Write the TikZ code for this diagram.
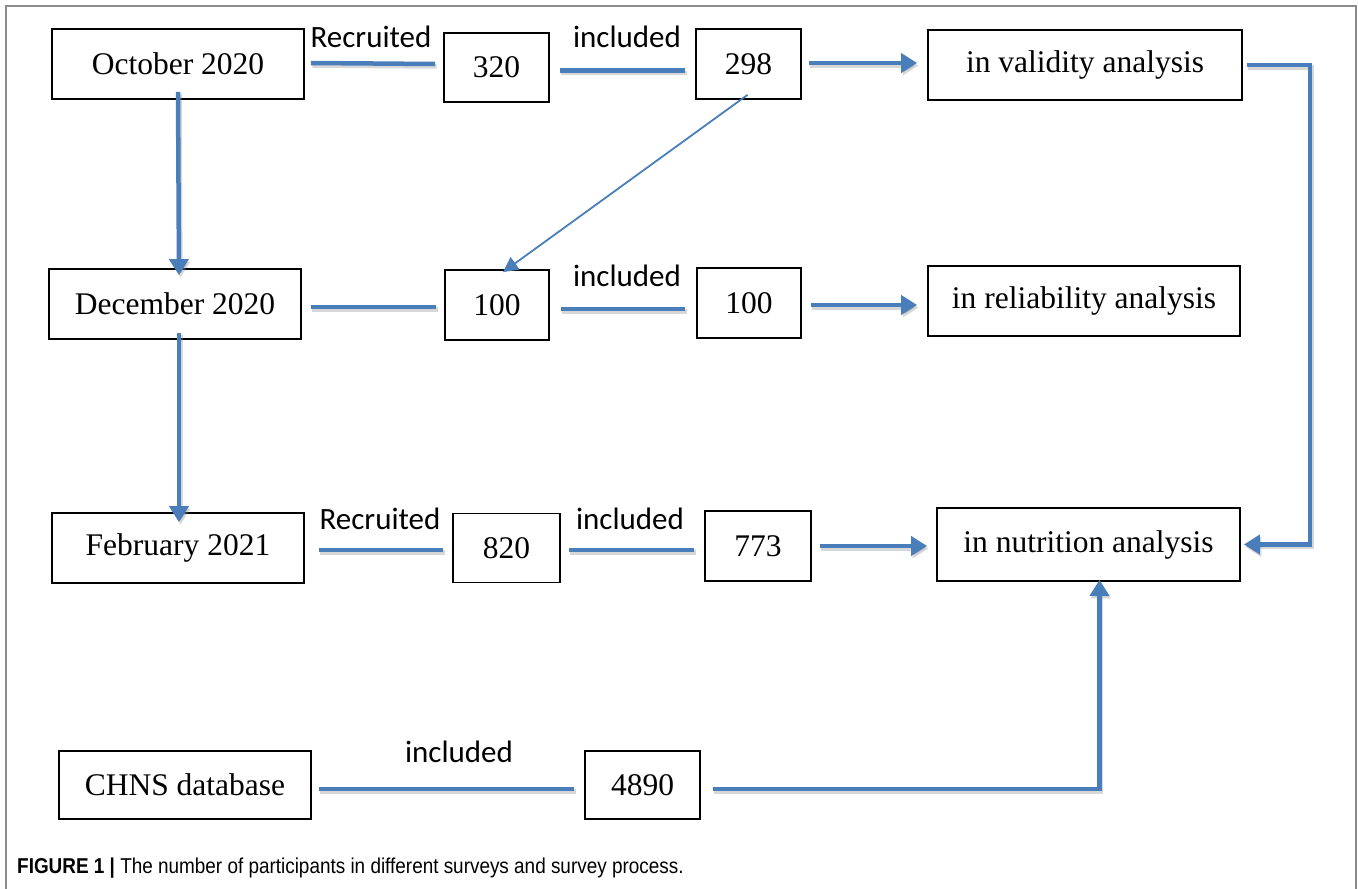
\documentclass[tikz,border=0pt]{standalone}
\usepackage{fontspec}
\setmainfont{Liberation Serif}
\newfontfamily\labfont{Carlito}
\newfontfamily\capfont{Liberation Sans}
\usetikzlibrary{arrows.meta}
\definecolor{connblue}{HTML}{4A7EBB}
\definecolor{framegray}{HTML}{8C8C8C}
\tikzset{
  box/.style={draw=black, line width=1.8pt, inner sep=0pt, font=\fontsize{31.5}{36}\selectfont},
  lab/.style={inner sep=0pt, font=\labfont\fontsize{31}{36}\selectfont},
  conn/.style={draw=connblue, line width=4.5pt,
    preaction={draw=black!45, opacity=0.35, line width=4.5pt,
      transform canvas={shift={(1.5pt,-2.5pt)}}}},
  arr/.style={conn, -{Triangle[length=16pt,width=19pt]}},
  thin/.style={draw=connblue, line width=1.8pt, -{Triangle[length=15pt,width=15pt]}},
}
\begin{document}
\begin{tikzpicture}[x=1pt,y=-1pt]
\useasboundingbox (0,0) rectangle (1358,889);
\draw[framegray, line width=1.6pt] (6,889) -- (6,6) -- (1356,6) -- (1356,889);

% row 1
\node[box, minimum width=252pt, minimum height=70pt] (oct) at (178,64) {October 2020};
\node[box, minimum width=105pt, minimum height=69pt] (n320) at (496.5,67.5) {320};
\node[box, minimum width=105pt, minimum height=70pt] (n298) at (748.5,64) {298};
\node[box, minimum width=314pt, minimum height=70pt] (valid) at (1085,65) {in validity analysis};
% row 2
\node[box, minimum width=252pt, minimum height=70pt] (dec) at (175,304) {December 2020};
\node[box, minimum width=104pt, minimum height=70pt] (n100a) at (497,305) {100};
\node[box, minimum width=104pt, minimum height=70pt] (n100b) at (749,303) {100};
\node[box, minimum width=312pt, minimum height=70pt] (rel) at (1084,301) {in reliability analysis};
% row 3
\node[box, minimum width=252pt, minimum height=70pt] (feb) at (178,548) {February 2021};
\node[box, minimum width=107pt, minimum height=69pt] (n820) at (506.5,548) {820};
\node[box, minimum width=106pt, minimum height=70pt] (n773) at (758,546) {773};
\node[box, minimum width=303pt, minimum height=73pt] (nutr) at (1088.5,544.5) {in nutrition analysis};
% row 4
\node[box, minimum width=252pt, minimum height=68pt] (chns) at (185,785) {CHNS database};
\node[box, minimum width=115pt, minimum height=68pt] (n4890) at (642.5,785) {4890};

% labels
\node[lab] (l1) at (371,37) {Recruited};
\node[lab] (l2) at (627,37) {included};
\node[lab] (l3) at (627,276) {included};
\node[lab] (l4) at (380,519) {Recruited};
\node[lab] (l5) at (630,519) {included};
\node[lab] (l6) at (459,752) {included};

% row 1 connectors
\draw[conn] ([xshift=6pt,yshift=1pt]oct.east) -- ([xshift=-8pt]oct.east -| n320.west);
\draw[conn] ([xshift=10pt,yshift=-3pt]n320.east) -- ([xshift=-10pt,yshift=-3pt]n320.east -| n298.west);
\draw[arr] ([xshift=7pt,yshift=1pt]n298.east) -- ([xshift=-10pt,yshift=1pt]n298.east -| valid.west);
\draw[arr] ([xshift=4pt]valid.east) -- ++(63,0) |- ([xshift=3pt]nutr.east);
% verticals
\draw[arr] ([yshift=8pt]oct.south) -- ([yshift=-7pt,xshift=4pt]dec.north);
\draw[arr] ([xshift=4pt,yshift=7pt]dec.south) -- ([xshift=1pt,yshift=-10pt]feb.north);
\draw[thin] ([yshift=5pt,xshift=-1pt]n298.south) -- ([xshift=6pt,yshift=-3pt]n100a.north);
% row 2
\draw[conn] ([xshift=9pt,yshift=-3pt]dec.east) -- ([xshift=-8pt,yshift=-3pt]dec.east -| n100a.west);
\draw[conn] ([xshift=11pt,yshift=-4pt]n100a.east) -- ([xshift=-11pt,yshift=-4pt]n100a.east -| n100b.west);
\draw[arr] ([xshift=9pt,yshift=-2pt]n100b.east) -- ([xshift=-10pt,yshift=-2pt]n100b.east -| rel.west);
% row 3
\draw[conn] ([xshift=14pt,yshift=-2pt]feb.east) -- ([xshift=-9pt,yshift=-2pt]feb.east -| n820.west);
\draw[conn] ([xshift=8pt,yshift=-2pt]n820.east) -- ([xshift=-10pt,yshift=-2pt]n820.east -| n773.west);
\draw[arr] ([xshift=8pt]n773.east) -- ([xshift=-9pt]n773.east -| nutr.west);
% row 4
\draw[conn] ([xshift=7pt,yshift=-4pt]chns.east) -- ([xshift=-10pt,yshift=-4pt]chns.east -| n4890.west);
\draw[arr] ([xshift=12pt,yshift=-4pt]n4890.east) -| ([xshift=11pt,yshift=2pt]nutr.south);

% caption
\node[anchor=base west, inner sep=0pt, font=\capfont\fontsize{21.5}{24}\selectfont] (cap) at (17,873)
  {\scalebox{0.88}[1]{\textbf{FIGURE 1} \textbf{|} The number of participants in different surveys and survey process.}};
\end{tikzpicture}
\end{document}
